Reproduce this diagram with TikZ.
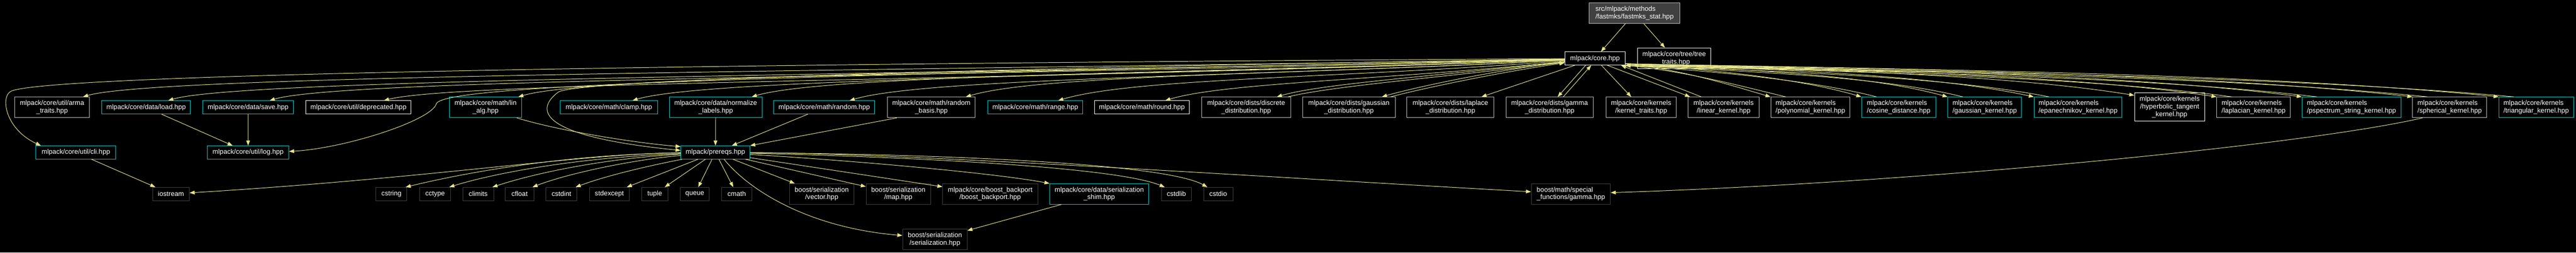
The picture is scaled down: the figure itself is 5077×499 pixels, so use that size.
\documentclass[tikz,border=0pt]{standalone}
\usepackage{fontspec}
\setmainfont{Liberation Sans}
\usetikzlibrary{arrows.meta,calc}

\definecolor{inclcol}{RGB}{230,230,140}
\definecolor{cyanline}{RGB}{0,210,210}
\definecolor{grayline}{RGB}{191,191,191}
\definecolor{darkline}{RGB}{64,64,64}

\begin{document}
\begin{tikzpicture}[x=0.75pt, y=-0.75pt, wd/.style={minimum width=#1*0.75pt}]
	\tikzstyle{file}     = [draw, line width=0.75pt, fill=black, text=white, font=\fontsize{10pt}{11.25pt}\selectfont, inner sep=4.9pt, minimum height=19.5pt, align=center]
	\tikzstyle{cfile}    = [file, draw=cyanline]
	\tikzstyle{wfile}    = [file, draw=white]
	\tikzstyle{gfile}    = [file, draw=grayline]
	\tikzstyle{sysfile}  = [file, draw=darkline]
	\tikzstyle{mainfile} = [file, draw=grayline, fill=darkline]
	\tikzstyle{incl}     = [draw=inclcol, line width=0.75pt, -{Triangle[length=7.5pt,width=5.5pt]}]

	\useasboundingbox (0,0) rectangle (5077,499);
	\fill[black] (0,0) rectangle (5077,499);

	\node[mainfile, wd=179, align=left] (stat) at (3221.5,26) {src/mlpack/methods\\/fastmks/fastmks\_stat.hpp};
	\node[wfile, wd=119] (core) at (3143.5,115.5) {mlpack/core.hpp};
	\node[wfile, wd=145] (treetraits) at (3299.5,115) {mlpack/core/tree/tree\\\_traits.hpp};

	% included by core.hpp
	\node[gfile, wd=147] (arma) at (102.5,212) {mlpack/core/util/arma\\\_traits.hpp};
	\node[cfile, wd=174] (load) at (288,212) {mlpack/core/data/load.hpp};
	\node[cfile, wd=178] (save) at (489,212) {mlpack/core/data/save.hpp};
	\node[wfile, wd=207] (deprecated) at (706.5,212) {mlpack/core/util/deprecated.hpp};
	\node[cfile, wd=142] (linalg) at (957,212) {mlpack/core/math/lin\\\_alg.hpp};
	\node[cfile, wd=192] (clamp) at (1200,212) {mlpack/core/math/clamp.hpp};
	\node[cfile, wd=183] (normalize) at (1410.5,212) {mlpack/core/data/normalize\\\_labels.hpp};
	\node[cfile, wd=199] (random) at (1624.5,212) {mlpack/core/math/random.hpp};
	\node[gfile, wd=173] (randombasis) at (1835.5,212) {mlpack/core/math/random\\\_basis.hpp};
	\node[cfile, wd=187] (range) at (2040.5,212) {mlpack/core/math/range.hpp};
	\node[wfile, wd=187] (round) at (2250.5,212) {mlpack/core/math/round.hpp};
	\node[gfile, wd=176] (discrete) at (2456,212) {mlpack/core/dists/discrete\\\_distribution.hpp};
	\node[gfile, wd=183] (gaussdist) at (2658.5,212) {mlpack/core/dists/gaussian\\\_distribution.hpp};
	\node[gfile, wd=171] (laplacedist) at (2858.5,212) {mlpack/core/dists/laplace\\\_distribution.hpp};
	\node[gfile, wd=172] (gammadist) at (3054,212) {mlpack/core/dists/gamma\\\_distribution.hpp};
	\node[gfile, wd=139] (kerneltraits) at (3234.5,212) {mlpack/core/kernels\\/kernel\_traits.hpp};
	\node[gfile, wd=140] (linear) at (3397,212) {mlpack/core/kernels\\/linear\_kernel.hpp};
	\node[gfile, wd=156, align=left] (polynomial) at (3568,212) {mlpack/core/kernels\\/polynomial\_kernel.hpp};
	\node[cfile, wd=146, align=left] (cosine) at (3742,212) {mlpack/core/kernels\\/cosine\_distance.hpp};
	\node[cfile, wd=145, align=left] (gausskernel) at (3911.5,212) {mlpack/core/kernels\\/gaussian\_kernel.hpp};
	\node[cfile, wd=173, align=left] (epan) at (4095.5,212) {mlpack/core/kernels\\/epanechnikov\_kernel.hpp};
	\node[wfile, wd=138] (hyper) at (4276,211.5) {mlpack/core/kernels\\/hyperbolic\_tangent\\\_kernel.hpp};
	\node[gfile, wd=145, align=left] (laplacian) at (4441.5,212) {mlpack/core/kernels\\/laplacian\_kernel.hpp};
	\node[cfile, wd=195, align=left] (pspectrum) at (4634.5,212) {mlpack/core/kernels\\/pspectrum\_string\_kernel.hpp};
	\node[gfile, wd=146, align=left] (spherical) at (4828,212) {mlpack/core/kernels\\/spherical\_kernel.hpp};
	\node[cfile, wd=147, align=left] (triangular) at (4998.5,212) {mlpack/core/kernels\\/triangular\_kernel.hpp};

	\node[cfile, wd=157] (cli) at (149.5,301) {mlpack/core/util/cli.hpp};
	\node[cfile, wd=160] (log) at (489,301) {mlpack/core/util/log.hpp};
	\node[cfile, wd=136] (prereqs) at (1410,301) {mlpack/prereqs.hpp};

	% system and boost headers
	\foreach \hdr/\x/\w in {iostream/337/72, cstring/771.5/61, cctype/857.5/61, climits/942.5/61, cfloat/1024/56, cstdint/1106.5/61, stdexcept/1201/78, tuple/1290.5/51, queue/1369.5/57, cmath/1452/60, cstdlib/2318.5/59, cstdio/2401/58}
		\node[sysfile, wd=\w] (\hdr) at (\x,383) {\hdr};
	\node[sysfile, wd=127] (vector) at (1619.5,383) {boost/serialization\\/vector.hpp};
	\node[sysfile, wd=127] (map) at (1770.5,383) {boost/serialization\\/map.hpp};
	\node[sysfile, wd=187] (backport) at (1951.5,383) {mlpack/core/boost\_backport\\/boost\_backport.hpp};
	\node[cfile, wd=195] (shim) at (2166.5,383) {mlpack/core/data/serialization\\\_shim.hpp};
	\node[sysfile, wd=156, align=left] (gammaboost) at (3096,383) {boost/math/special\\\_functions/gamma.hpp};
	\node[sysfile, wd=127] (serialization) at (1842.5,473) {boost/serialization\\/serialization.hpp};

	\draw[incl] (stat) -- (core);
	\draw[incl] (stat) -- (treetraits);

	\foreach \from/\to in {core/laplacedist, core/kerneltraits, load/log, save/log, normalize/prereqs, random/prereqs, prereqs/cmath, prereqs/queue, prereqs/tuple, prereqs/stdexcept, prereqs/vector, prereqs/map, prereqs/backport, shim/serialization, cli/iostream}
		\path[incl] (\from) -- (\to);

	% core.hpp, to the left
	\foreach \to/\dx/\ax/\ay/\bx/\by in {arma/-13/1770/140/313/147, load/-44/1845/148/481/154, save/-47/1935/152/681/154, deprecated/-54/2036/160/906/160, linalg/-7/2156/140/1171/147, clamp/-50/2257/150/1396/154, normalize/-21/2363/145/1631/147, random/-50/2450/152/1824/154, randombasis/-19/2553/148/2053/147, range/-49/2634/155/2235/154, round/-48/2729/158/2414/163, discrete/-28/2828/150/2601/166, gaussdist/-27/2950/138/2790/172}
		\draw[incl] (core) .. controls (\ax,\ay) and (\bx,\by) .. ($(\to.north east)+(\dx,0)$);
	\draw[incl] ($(discrete.north east)+(-6,0)$) .. controls (2623,170) and (2850,152) .. (core);
	\draw[incl] ($(gaussdist.north east)+(-10,0)$) .. controls (2805,174) and (2960,142) .. (core);
	\draw[incl] ($(core.south)+(-18.5,0)$) -- ($(gammadist.north)+(16,0)$);
	\draw[incl] ($(gammadist.north)+(27,0)$) -- ($(core.south)+(-7.5,0)$);
	\draw[incl] (core) .. controls (1500,125) and (100,145) .. (22,180) .. controls (0,190) and (10,255) .. ($(cli.north west)+(10,0)$);
	\draw[incl] (core) .. controls (1600,150) and (872,165) .. (860,205) .. controls (850,238) and (680,293) .. ($(log.east)+(0,-2)$);
	\draw[incl] (core) .. controls (1900,135) and (1130,159) .. (1100,182) .. controls (1050,220) and (1070,270) .. ($(prereqs.west)+(0,-4)$);

	% core.hpp, to the right
	\draw[incl] ($(core.south)+(24.5,0)$) -- ($(linear.north)+(-66,0)$);
	\draw[incl] ($(linear.north)+(-44,0)$) -- ($(core.south)+(51.5,0)$);
	\foreach \to/\ax/\ay/\bx/\by in {polynomial/3318/138/3410/168, cosine/3389/138/3552/157, gausskernel/3457/138/3680/148, epan/3525/138/3807/148, laplacian/3669/138/4077/148, pspectrum/3737/138/4203/148, spherical/3824/138/4367/148, triangular/3892/138/4494/148}
		\draw[incl] ($(core.south east)+(0,-3)$) .. controls (\ax,\ay) and (\bx,\by) .. (\to.north west);
	\foreach \from/\ax/\ay/\bx/\by in {polynomial/3440/172/3328/142, cosine/3582/161/3399/142, gausskernel/3712/152/3467/142, epan/3840/152/3535/142, laplacian/4110/152/3679/142, pspectrum/4236/152/3747/142, spherical/4400/152/3834/142, triangular/4527/152/3902/142}
		\draw[incl] ($(\from.north west)+(30,0)$) .. controls (\ax,\ay) and (\bx,\by) .. (core.south east);
	\draw[incl] ($(core.south east)+(0,-3)$) .. controls (3605,138) and (3956,148) .. ($(hyper.north west)+(0,5)$);

	% prereqs.hpp
	\draw[incl] ($(linalg.south east)+(-10,0)$) .. controls (1100,258) and (1250,282) .. ($(prereqs.north west)+(0,2)$);
	\draw[incl] ($(randombasis.south west)+(19,0)$) -- (prereqs.north east);
	\draw[incl] (prereqs) .. controls (1150,303) and (850,352) .. (iostream);
	\draw[incl] (prereqs) .. controls (1100,305) and (900,345) .. ($(cstring.north east)+(-3,0)$);
	\draw[incl] (prereqs) .. controls (1150,310) and (980,340) .. ($(cctype.north east)+(-3,0)$);
	\draw[incl] (prereqs) .. controls (1200,312) and (1060,340) .. ($(climits.north east)+(-3,0)$);
	\draw[incl] (prereqs) .. controls (1250,315) and (1120,342) .. ($(cfloat.north east)+(-3,0)$);
	\draw[incl] ($(prereqs.south west)+(3,0)$) .. controls (1290,325) and (1200,345) .. ($(cstdint.north east)+(-3,0)$);
	\draw[incl] (prereqs) .. controls (1650,315) and (1950,340) .. (shim.north west);
	\draw[incl] (prereqs) .. controls (1800,310) and (2200,330) .. ($(cstdlib.north west)+(7,0)$);
	\draw[incl] (prereqs) .. controls (1900,305) and (2300,325) .. ($(cstdio.north west)+(8,0)$);
	\draw[incl] (prereqs) .. controls (1800,303) and (2500,350) .. (gammaboost);
	\draw[incl] ($(prereqs.south)+(17,0)$) .. controls (1480,380) and (1600,450) .. ($(serialization.west)+(0,-8)$);
	\draw[incl] ($(spherical.south west)+(20,0)$) .. controls (4550,285) and (3800,360) .. (gammaboost);
\end{tikzpicture}
\end{document}
